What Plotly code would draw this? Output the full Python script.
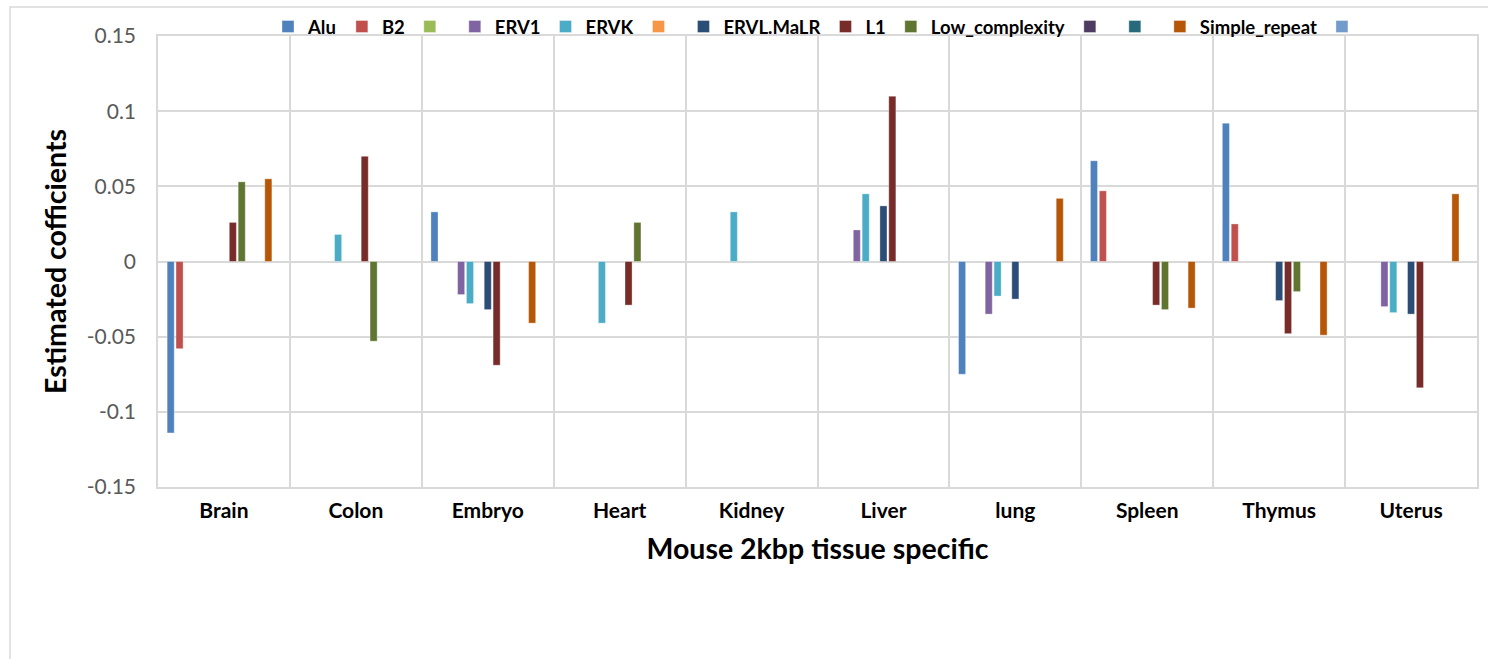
import plotly.graph_objects as go

# Tissues on the category axis
tissues = ["Brain", "Colon", "Embryo", "Heart", "Kidney", "Liver", "lung", "Spleen", "Thymus", "Uterus"]

# Estimated coefficient per repeat family (None = not selected for that tissue)
alu            = [-0.114, None, 0.033, None, None, None, -0.075, 0.067, 0.092, None]
b2             = [-0.058, None, None, None, None, None, None, 0.047, 0.025, None]
unnamed_green  = [None] * 10
erv1           = [None, None, -0.022, None, None, 0.021, -0.035, None, None, -0.030]
ervk           = [None, 0.018, -0.028, -0.041, 0.033, 0.045, -0.023, None, None, -0.034]
unnamed_orange = [None] * 10
ervl_malr      = [None, None, -0.032, None, None, 0.037, -0.025, None, -0.026, -0.035]
l1             = [0.026, 0.070, -0.069, -0.029, None, 0.110, None, -0.029, -0.048, -0.084]
low_complexity = [0.053, -0.053, None, 0.026, None, None, None, -0.032, -0.020, None]
unnamed_purple = [None] * 10
unnamed_teal   = [None] * 10
simple_repeat  = [0.055, None, -0.041, None, None, None, 0.042, -0.031, -0.049, 0.045]
unnamed_light  = [None] * 10

series_names = ["Alu", "B2", "", "ERV1", "ERVK", "", "ERVL.MaLR", "L1",
                "Low_complexity", "", "", "Simple_repeat", ""]
series_values = [alu, b2, unnamed_green, erv1, ervk, unnamed_orange, ervl_malr, l1,
                 low_complexity, unnamed_purple, unnamed_teal, simple_repeat, unnamed_light]
series_colors = ["#4F81BD", "#C0504D", "#9BBB59", "#8064A2", "#4BACC6", "#F79646",
                 "#2C4D75", "#772C2A", "#5F7530", "#4D3B62", "#276A7C", "#B65708", "#729ACA"]

y_ticks = [0.15, 0.1, 0.05, 0, -0.05, -0.1, -0.15]
y_tick_labels = ["0.15", "0.1", "0.05", "0", "-0.05", "-0.1", "-0.15"]

GRID = "#d9d9d9"
FONT = "Lato"

fig = go.Figure()
for name, vals, col in zip(series_names, series_values, series_colors):
    fig.add_trace(go.Bar(
        x=tissues, y=vals, name=name,
        marker=dict(color=col, line=dict(color="rgba(255,255,255,0.6)", width=0.6)),
    ))

fig.update_layout(
    width=1488, height=659,
    margin=dict(l=158, r=11, t=36, b=172, autoexpand=False),
    paper_bgcolor="white", plot_bgcolor="white",
    barmode="group", bargap=0.125, bargroupgap=0.2,
    font=dict(family=FONT, color="#000000"),
    showlegend=True,
    legend=dict(
        orientation="h", x=0.5, xanchor="center", y=1.02, yanchor="middle",
        font=dict(family=FONT, size=18.5, color="#000000", weight="bold"),
        itemwidth=30, traceorder="normal", bgcolor="rgba(0,0,0,0)",
        tracegroupgap=0,
    ),
    xaxis=dict(
        type="category", tickson="boundaries",
        showgrid=True, gridcolor=GRID, gridwidth=1.5,
        showline=True, mirror=True, linecolor=GRID, linewidth=1.5,
        ticks="", tickfont=dict(family=FONT, size=21, color="#000000", weight="bold"),
        ticklabelstandoff=4,
        title=dict(text="Mouse 2kbp tissue specific",
                   font=dict(family=FONT, size=28.5, color="#000000", weight="bold"),
                   standoff=18),
    ),
    yaxis=dict(
        range=[-0.15, 0.15], tickvals=y_ticks, ticktext=y_tick_labels,
        showgrid=True, gridcolor=GRID, gridwidth=1.5,
        zeroline=True, zerolinecolor=GRID, zerolinewidth=1.5,
        showline=True, mirror=True, linecolor=GRID, linewidth=1.5,
        ticks="", tickfont=dict(family=FONT, size=21, color="#595959"),
        ticklabelstandoff=16,
        title=dict(text="Estimated cofficients",
                   font=dict(family=FONT, size=28.5, color="#000000", weight="bold"),
                   standoff=12),
    ),
    shapes=[dict(type="rect", xref="paper", yref="paper",
                 x0=-0.1122, x1=1.2, y0=-0.6, y1=1.0643,
                 line=dict(color=GRID, width=1.5), fillcolor="rgba(0,0,0,0)", layer="below")],
)

fig.write_html("out.html")
